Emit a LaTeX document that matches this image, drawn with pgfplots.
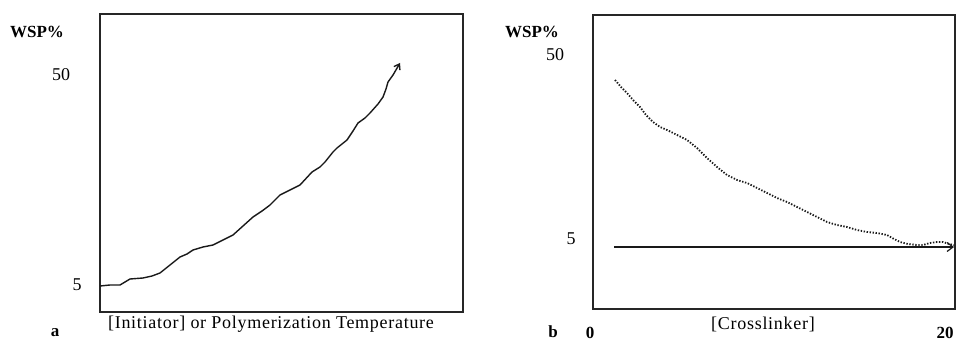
\documentclass[border=0pt]{standalone}
\usepackage{fontspec}
\setmainfont{Liberation Serif}
\usepackage{pgfplots}
\pgfplotsset{compat=1.18}
\usetikzlibrary{arrows.meta}
\begin{document}
\begin{tikzpicture}[x=1pt,y=1pt]
\useasboundingbox (0,0) rectangle (957,342);
\begin{axis}[at={(100pt,30pt)}, anchor=south west, scale only axis,
  width=363pt, height=298pt, xmin=100, xmax=463, ymin=30, ymax=328,
  xtick=\empty, ytick=\empty, axis line style={line width=1.2pt, black!85}]
\addplot[line width=1.4pt, black!90, -{Straight Barb[length=5pt,width=7pt]}] coordinates {
(100,56) (110,57) (120,57) (130,63) (143,64) (152,66) (160,69) (170,77) (180,85) (187,88) (193,92) (203,95) (213,97) (223,102) (233,107) (243,116) (253,125) (262,131) (270,137) (280,147) (290,152) (300,157) (312,170) (320,175) (325,180) (333,190) (337,194) (347,202) (353,211) (358,219) (365,224) (370,229) (378,238) (383,245) (386,253) (388,260) (393,267) (400,279)};
\end{axis}
\begin{axis}[at={(593pt,33pt)}, anchor=south west, scale only axis,
  width=362pt, height=294pt, xmin=593, xmax=955, ymin=33, ymax=327,
  xtick=\empty, ytick=\empty, axis line style={line width=1.2pt, black!85}]
\addplot[line width=1.8pt, black!90, dash pattern=on 1.4pt off 1.6pt] coordinates {
(615,262) (621,255) (627,249) (633,242) (640,235) (646,227) (653,220) (660,215) (667,212) (677,207) (687,202) (697,194) (707,184) (717,175) (727,167) (737,162) (747,159) (757,154) (767,149) (777,144) (787,140) (797,135) (807,130) (817,125) (827,120) (837,117) (847,115) (857,112) (867,110) (877,109) (887,107) (894,103) (900,100) (908,98) (917,97) (923,97) (930,99) (937,100) (943,100) (949,98) (954,97)};
\addplot[line width=1.2pt, black!90, -{Straight Barb[length=6pt,width=9pt]}] coordinates {(614,95) (954,95)};
\end{axis}
\begin{scope}[every node/.style={inner sep=0pt}]
\node[font=\fontsize{17}{19}\selectfont\bfseries] at (37,310) {WSP\%};
\node[font=\fontsize{17}{19}\selectfont\bfseries] at (532,310) {WSP\%};
\node[font=\fontsize{18}{20}\selectfont] at (61,267) {50};
\node[font=\fontsize{18}{20}\selectfont] at (77,57) {5};
\node[font=\fontsize{18}{20}\selectfont] at (555,287) {50};
\node[font=\fontsize{18}{20}\selectfont] at (571,103) {5};
\node[font=\fontsize{18}{20}\selectfont\addfontfeature{LetterSpace=4}] at (271,18) {[Initiator] or Polymerization Temperature};
\node[font=\fontsize{18}{20}\selectfont\addfontfeature{LetterSpace=4}] at (763,18) {[Crosslinker]};
\node[font=\fontsize{17}{19}\selectfont\bfseries] at (55,9) {a};
\node[font=\fontsize{17}{19}\selectfont\bfseries] at (553,10) {b};
\node[font=\fontsize{17}{19}\selectfont\bfseries] at (590,9) {0};
\node[font=\fontsize{17}{19}\selectfont\bfseries] at (945,9) {20};
\end{scope}
\end{tikzpicture}
\end{document}
